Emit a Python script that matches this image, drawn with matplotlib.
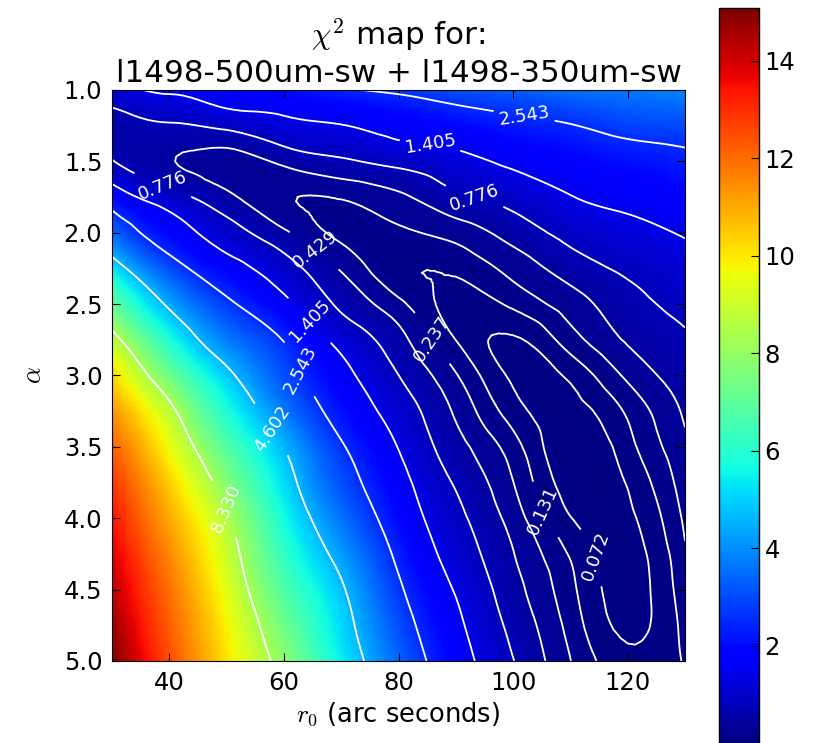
"""Chi-squared map over (r0, alpha) with log-spaced contour levels."""

import numpy as np
import matplotlib

matplotlib.use("Agg")
import matplotlib.pyplot as plt
import matplotlib.tri as mtri

plt.rcParams["font.family"] = ["DejaVu Sans"]
plt.rcParams["mathtext.fontset"] = "cm"

# grid: columns are r0, rows are alpha
R0 = [30, 40, 50, 60, 70, 80, 90, 100, 110, 120, 130]
ALPHA = [1.0, 1.25, 1.5, 1.75, 2.0, 2.25, 2.5, 2.75, 3.0,
         3.25, 3.5, 3.75, 4.0, 4.25, 4.5, 4.75, 5.0]
CHI2 = [
    [1.2, 1.5, 1.75, 1.97, 2.45, 2.7, 3.1, 3.3, 3.6, 3.7, 3.9],
    [0.58, 0.72, 0.90, 1.2, 1.38, 1.68, 1.93, 2.26, 2.5, 2.85, 2.95],
    [0.80, 0.45, 0.34, 0.50, 0.71, 0.93, 1.2, 1.55, 1.85, 2.1, 2.33],
    [1.95, 1.0, 0.50, 0.25, 0.25, 0.38, 0.69, 0.97, 1.38, 1.6, 1.85],
    [3.5, 1.9, 1.02, 0.48, 0.20, 0.21, 0.30, 0.55, 0.93, 1.2, 1.46],
    [5.3, 3.05, 1.78, 1.0, 0.40, 0.15, 0.15, 0.29, 0.57, 0.86, 1.15],
    [7.1, 4.4, 2.75, 1.62, 0.69, 0.28, 0.10, 0.15, 0.32, 0.63, 0.90],
    [8.8, 5.86, 3.75, 2.5, 1.18, 0.53, 0.13, 0.066, 0.18, 0.46, 0.72],
    [10.3, 7.3, 4.9, 3.06, 1.66, 0.78, 0.25, 0.064, 0.082, 0.27, 0.58],
    [11.3, 8.7, 5.85, 3.75, 2.1, 1.08, 0.39, 0.095, 0.056, 0.146, 0.47],
    [12.2, 9.6, 6.8, 4.6, 2.65, 1.38, 0.54, 0.17, 0.045, 0.105, 0.38],
    [12.85, 10.4, 7.7, 5.15, 3.07, 1.68, 0.73, 0.24, 0.052, 0.076, 0.32],
    [13.4, 11.0, 8.5, 5.7, 3.6, 1.98, 0.91, 0.33, 0.074, 0.062, 0.265],
    [13.9, 11.5, 9.0, 6.2, 4.2, 2.34, 1.1, 0.44, 0.122, 0.056, 0.22],
    [14.3, 11.9, 9.4, 6.75, 4.75, 2.7, 1.35, 0.54, 0.155, 0.056, 0.19],
    [14.7, 12.2, 9.8, 7.3, 5.1, 3.05, 1.58, 0.66, 0.19, 0.062, 0.16],
    [15.08, 12.5, 10.1, 7.8, 5.45, 3.4, 1.8, 0.79, 0.24, 0.085, 0.14],
]
LEVELS = [0.072, 0.131, 0.237, 0.429, 0.776, 1.405, 2.543, 4.602, 8.330]
CBAR_TICKS = [2, 4, 6, 8, 10, 12, 14]
VMAX = 15.08

# where the inline labels sit (data coords), roughly as in the original
LABEL_POS = [
    (102, 1.16), (85.5, 1.39), (93.3, 1.74), (39.2, 1.63), (65.4, 2.12),
    (64.9, 2.60), (63.2, 2.95), (55.5, 3.45), (47.1, 3.98), (86.7, 2.72),
    (105.6, 3.94), (114.8, 4.26),
]


def smooth_field(z):
    """Cubic-refine log10(chi2) on the grid (in index space, so the
    interpolator is not thrown off by the very different axis scales)."""
    nx, ny = len(R0), len(ALPHA)
    u, v = np.meshgrid(np.arange(nx, dtype=float), np.arange(ny, dtype=float))
    tri = mtri.Triangulation(u.ravel(), v.ravel())
    logz = np.log10(z).ravel()
    interp = mtri.CubicTriInterpolator(tri, logz, kind="min_E")
    refiner = mtri.UniformTriRefiner(tri)
    tri_r, logz_r = refiner.refine_field(logz, triinterpolator=interp, subdiv=3)
    # index space -> data space (grid is evenly spaced)
    xr = np.interp(tri_r.x, np.arange(nx), R0)
    yr = np.interp(tri_r.y, np.arange(ny), ALPHA)
    return mtri.Triangulation(xr, yr, tri_r.triangles), logz_r


def main() -> None:
    z = np.array(CHI2)
    tri, logz = smooth_field(z)

    fig = plt.figure(figsize=(8.16, 7.43), dpi=100)
    ax = fig.add_axes([0.1373, 0.1104, 0.7022, 0.7685])
    cax = fig.add_axes([0.8811, 0.0, 0.049, 0.9892])

    mesh = ax.tripcolor(tri, 10 ** logz, shading="gouraud", cmap="jet",
                        vmin=0, vmax=VMAX)
    cs = ax.tricontour(tri, logz, levels=np.log10(LEVELS), colors="white",
                       linewidths=1.3, linestyles="solid")
    fmt = {lv: f"{v:.3f}" for lv, v in zip(cs.levels, LEVELS)}
    ax.clabel(cs, fmt=fmt, fontsize=13, colors="white", manual=LABEL_POS)

    ax.set_xlim(30, 130)
    ax.set_ylim(5.0, 1.0)
    ax.set_xticks([40, 60, 80, 100, 120])
    ax.set_yticks([1.0, 1.5, 2.0, 2.5, 3.0, 3.5, 4.0, 4.5, 5.0])
    ax.set_yticklabels([f"{t:.1f}" for t in ax.get_yticks()])
    ax.tick_params(direction="in", length=6, top=True, right=True,
                   labelsize=17.5, pad=7)
    ax.set_xlabel("$r_0$ (arc seconds)", fontsize=18.5)
    ax.set_ylabel(r"$\alpha$", fontsize=19, labelpad=12)
    ax.set_title("$\\chi^2$ map for:\nl1498-500um-sw + l1498-350um-sw",
                 fontsize=22.3, pad=6)

    cb = fig.colorbar(mesh, cax=cax, ticks=CBAR_TICKS)
    cb.ax.tick_params(direction="in", length=6, labelsize=17.5, pad=4)
    cb.outline.set_linewidth(1.0)

    fig.savefig("out.png", dpi=100)


if __name__ == "__main__":
    main()
